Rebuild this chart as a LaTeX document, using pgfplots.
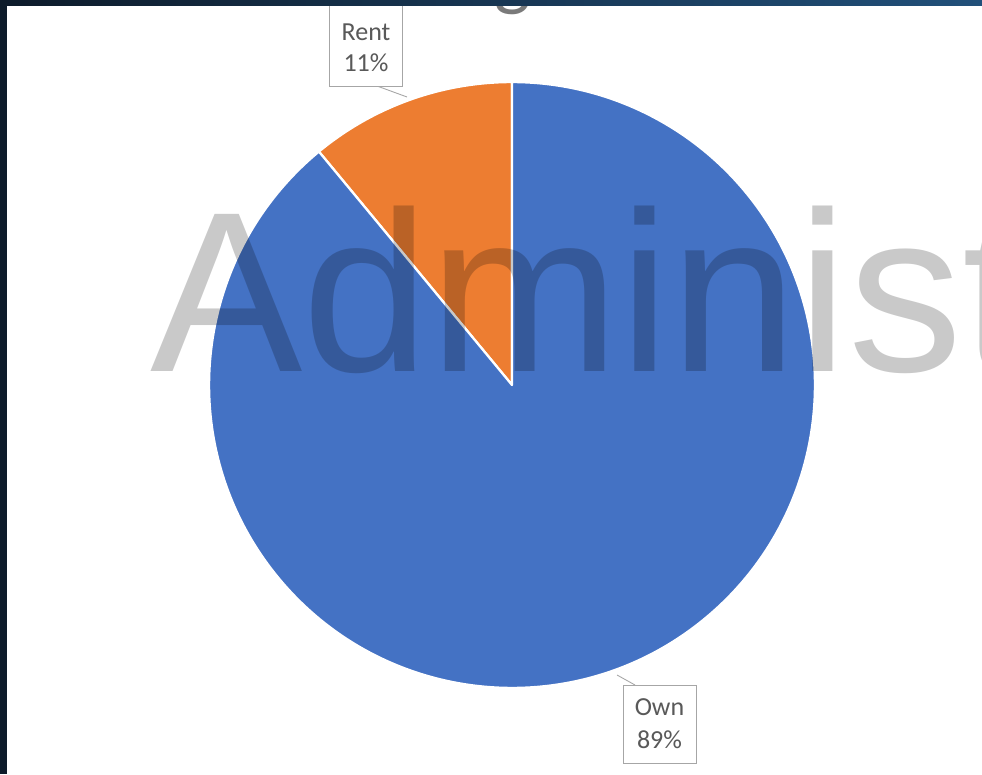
\documentclass[border=0pt]{standalone}
\usepackage{pgfplots}
\usepackage{pgfplotstable}
\pgfplotsset{compat=1.18}
\usepackage{fontspec}
\setmainfont{Carlito}
\newfontfamily\wmfont{Liberation Sans}
\definecolor{ownblue}{HTML}{4472C4}
\definecolor{rentorange}{HTML}{ED7D31}
\definecolor{labelgray}{HTML}{595959}
\definecolor{boxgray}{HTML}{A6A6A6}
\definecolor{bandleft}{HTML}{0D1B2A}
\definecolor{bandright}{HTML}{21507A}
\pgfplotstableread{
label value
Own 89
Rent 11
}\piedata
\pgfplotstablegetelem{0}{value}\of\piedata \let\ownval\pgfplotsretval
\pgfplotstablegetelem{1}{value}\of\piedata \let\rentval\pgfplotsretval
\pgfmathsetmacro{\rentend}{90+3.6*\rentval}
\pgfmathsetmacro{\ownend}{\rentend+3.6*\ownval}
\begin{document}
\begin{tikzpicture}
\begin{axis}[name=ax, x=0.02cm, y=0.02cm, xmin=0, xmax=982, ymin=0, ymax=774,
  hide axis, clip=false, scale only axis]
% background
\fill[white] (axis cs:0,0) rectangle (axis cs:982,774);
\begin{scope}
\clip (axis cs:0,0) rectangle (axis cs:982,774);
% pie slices
\fill[rentorange, draw=white, line width=1.3pt, line join=round]
  (axis cs:512,389) -- ++(90:6.06cm) arc[start angle=90, end angle=\rentend, radius=6.06cm] -- cycle;
\fill[ownblue, draw=white, line width=1.3pt, line join=round]
  (axis cs:512,389) -- ++(\rentend:6.06cm) arc[start angle=\rentend, end angle=\ownend, radius=6.06cm] -- cycle;
% watermark
\node[anchor=base west, inner sep=0pt, text=black, text opacity=0.21]
  at (axis cs:150,402) {\wmfont\fontsize{130}{132}\selectfont Administ};
% title fragment
\node[anchor=base, inner sep=0pt, text=labelgray!80] at (axis cs:513,772)
  {\fontsize{44}{48}\selectfont g};
% Rent label
\draw[boxgray, line width=0.5pt] (axis cs:377,688) -- (axis cs:407,677);
\filldraw[fill=white, draw=boxgray, line width=0.5pt] (axis cs:329,688) rectangle (axis cs:402,790);
\node[text=labelgray, inner sep=0pt] at (axis cs:366,742) {\fontsize{14.8}{16}\selectfont Rent};
\node[text=labelgray, inner sep=0pt] at (axis cs:366,711) {\fontsize{14.8}{16}\selectfont 11\%};
% Own label
\draw[boxgray, line width=0.5pt] (axis cs:635,89) -- (axis cs:617,99);
\filldraw[fill=white, draw=boxgray, line width=0.5pt] (axis cs:623,11) rectangle (axis cs:696,89);
\node[text=labelgray, inner sep=0pt] at (axis cs:659.5,67) {\fontsize{14.8}{16}\selectfont Own};
\node[text=labelgray, inner sep=0pt] at (axis cs:659.5,34) {\fontsize{14.8}{16}\selectfont 89\%};
% frame bands
\shade[left color=bandleft, right color=bandright] (axis cs:0,768) rectangle (axis cs:982,774);
\fill[bandleft] (axis cs:0,0) rectangle (axis cs:7,774);
\end{scope}
\end{axis}
\pgfresetboundingbox
\useasboundingbox (ax.south west) rectangle (ax.north east);
\end{tikzpicture}
\end{document}
